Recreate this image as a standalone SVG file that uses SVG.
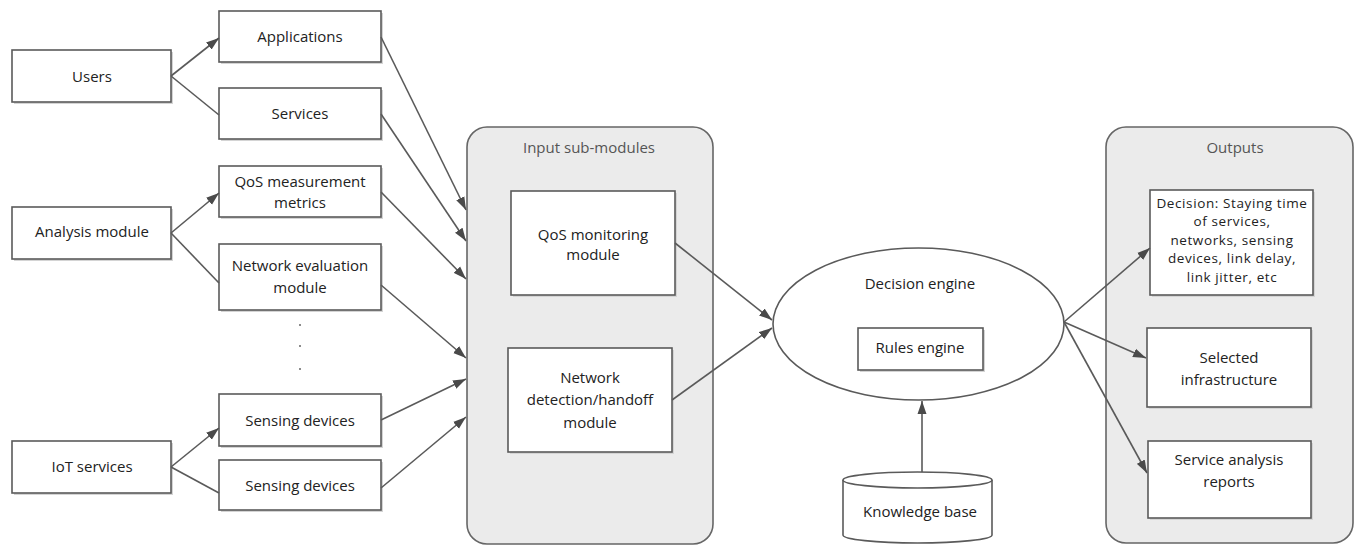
<svg xmlns="http://www.w3.org/2000/svg" width="1361" height="546" viewBox="0 0 1361 546">
<style>
text{font-family:"Open Sans","Liberation Sans",sans-serif;font-size:15px;fill:#222;text-anchor:middle}
.t{fill:#555}
.sm{font-size:13.5px;letter-spacing:0.6px}
.box{fill:#fff;stroke:#5a5a5a;stroke-width:1.6}
.sh{fill:#d4d4d4}
.cont{fill:#ebebeb;stroke:#666;stroke-width:1.6}
.ln{stroke:#5a5a5a;stroke-width:1.6;fill:none}
.ar{marker-end:url(#ah)}
</style>
<defs>
<marker id="ah" markerUnits="userSpaceOnUse" markerWidth="14" markerHeight="10" refX="13" refY="5" orient="auto">
<path d="M0,0.5 L13,5 L0,9.5 z" fill="#4a4a4a"/>
</marker>
</defs>
<rect width="1361" height="546" fill="#fff"/>

<g id="input-submodules">
<rect class="cont" x="467" y="127" width="246" height="417" rx="20"/>
<text class="t" x="589" y="153">Input sub-modules</text>
</g>
<g id="outputs">
<rect class="cont" x="1106" y="127" width="247" height="416" rx="20"/>
<text class="t" x="1235" y="153">Outputs</text>
</g>

<g id="users"><rect class="sh" x="14" y="52" width="159" height="52"/><rect class="box" x="12" y="50" width="159" height="52"/><text x="92" y="82">Users</text></g>
<g id="applications"><rect class="sh" x="221" y="13" width="162" height="51"/><rect class="box" x="219" y="11" width="162" height="51"/><text x="300" y="42">Applications</text></g>
<g id="services"><rect class="sh" x="221" y="90" width="162" height="51"/><rect class="box" x="219" y="88" width="162" height="51"/><text x="300" y="119">Services</text></g>
<g id="qos-measurement"><rect class="sh" x="221" y="168" width="162" height="51"/><rect class="box" x="219" y="166" width="162" height="51"/><text x="300" y="187">QoS measurement</text><text x="300" y="208">metrics</text></g>
<g id="analysis-module"><rect class="sh" x="14" y="209" width="159" height="52"/><rect class="box" x="12" y="207" width="159" height="52"/><text x="92" y="237">Analysis module</text></g>
<g id="network-evaluation"><rect class="sh" x="221" y="246" width="162" height="66"/><rect class="box" x="219" y="244" width="162" height="66"/><text x="300" y="271">Network evaluation</text><text x="300" y="293">module</text></g>
<g id="ellipsis-dots" fill="#666"><circle cx="300" cy="325" r="1"/><circle cx="300" cy="346" r="1"/><circle cx="300" cy="369" r="1"/></g>
<g id="sensing-devices-1"><rect class="sh" x="221" y="396" width="162" height="52"/><rect class="box" x="219" y="394" width="162" height="52"/><text x="300" y="426">Sensing devices</text></g>
<g id="iot-services"><rect class="sh" x="14" y="443" width="159" height="52"/><rect class="box" x="12" y="441" width="159" height="52"/><text x="92" y="472">IoT services</text></g>
<g id="sensing-devices-2"><rect class="sh" x="221" y="462" width="162" height="50"/><rect class="box" x="219" y="460" width="162" height="50"/><text x="300" y="491">Sensing devices</text></g>

<g id="qos-monitoring"><rect class="sh" x="513" y="193" width="164" height="104"/><rect class="box" x="511" y="191" width="164" height="104"/><text x="593" y="240">QoS monitoring</text><text x="593" y="260">module</text></g>
<g id="network-detection"><rect class="sh" x="510" y="350" width="164" height="104"/><rect class="box" x="508" y="348" width="164" height="104"/><text x="590" y="383">Network</text><text x="590" y="405">detection/handoff</text><text x="590" y="428">module</text></g>

<g id="decision-engine">
<ellipse cx="918.5" cy="324" rx="145.5" ry="76" fill="#fff" stroke="#5a5a5a" stroke-width="1.6"/>
<text x="920" y="289">Decision engine</text>
</g>
<g id="rules-engine"><rect class="sh" x="860" y="330" width="125" height="42"/><rect class="box" x="858" y="328" width="125" height="42"/><text x="920" y="353">Rules engine</text></g>
<g id="knowledge-base">
<path d="M843,480 L843,535 A74.5,8 0 0 0 992,535 L992,480" fill="#fff" stroke="#5a5a5a" stroke-width="1.6"/>
<ellipse cx="917.5" cy="480" rx="74.5" ry="8" fill="#fff" stroke="#5a5a5a" stroke-width="1.6"/>
<text x="920" y="517">Knowledge base</text>
</g>

<g id="decision-output"><rect class="sh" x="1152" y="192" width="163" height="105"/><rect class="box" x="1150" y="190" width="163" height="105"/>
<text class="sm" x="1232" y="207.5">Decision: Staying time</text><text class="sm" x="1232" y="226">of services,</text><text class="sm" x="1232" y="244.5">networks, sensing</text><text class="sm" x="1232" y="263">devices, link delay,</text><text class="sm" x="1232" y="281.5">link jitter, etc</text></g>
<g id="selected-infrastructure"><rect class="sh" x="1149" y="330" width="164" height="79"/><rect class="box" x="1147" y="328" width="164" height="79"/><text x="1229" y="363">Selected</text><text x="1229" y="385">infrastructure</text></g>
<g id="service-analysis"><rect class="sh" x="1150" y="443" width="163" height="77"/><rect class="box" x="1148" y="441" width="163" height="77"/><text x="1229" y="465">Service analysis</text><text x="1229" y="487">reports</text></g>

<g id="connectors">
<line class="ln ar" x1="171" y1="76" x2="219" y2="38"/>
<line class="ln" x1="171" y1="76" x2="219" y2="115"/>
<line class="ln ar" x1="171" y1="233" x2="219" y2="193"/>
<line class="ln" x1="171" y1="233" x2="219" y2="283"/>
<line class="ln ar" x1="171" y1="467" x2="219" y2="428"/>
<line class="ln" x1="171" y1="467" x2="219" y2="493"/>
<line class="ln ar" x1="381" y1="37" x2="466" y2="210"/>
<line class="ln ar" x1="381" y1="114" x2="466" y2="241"/>
<line class="ln ar" x1="381" y1="192" x2="466" y2="279"/>
<line class="ln ar" x1="381" y1="285" x2="466" y2="358"/>
<line class="ln ar" x1="381" y1="420" x2="466" y2="379"/>
<line class="ln ar" x1="381" y1="488" x2="466" y2="417"/>
<line class="ln ar" x1="675" y1="243" x2="772" y2="320"/>
<line class="ln ar" x1="672" y1="400" x2="772" y2="328"/>
<line class="ln ar" x1="922" y1="472" x2="922" y2="401"/>
<line class="ln ar" x1="1064" y1="322" x2="1150" y2="248"/>
<line class="ln ar" x1="1064" y1="322" x2="1146" y2="358"/>
<line class="ln ar" x1="1064" y1="322" x2="1147" y2="473"/>
</g>
</svg>
